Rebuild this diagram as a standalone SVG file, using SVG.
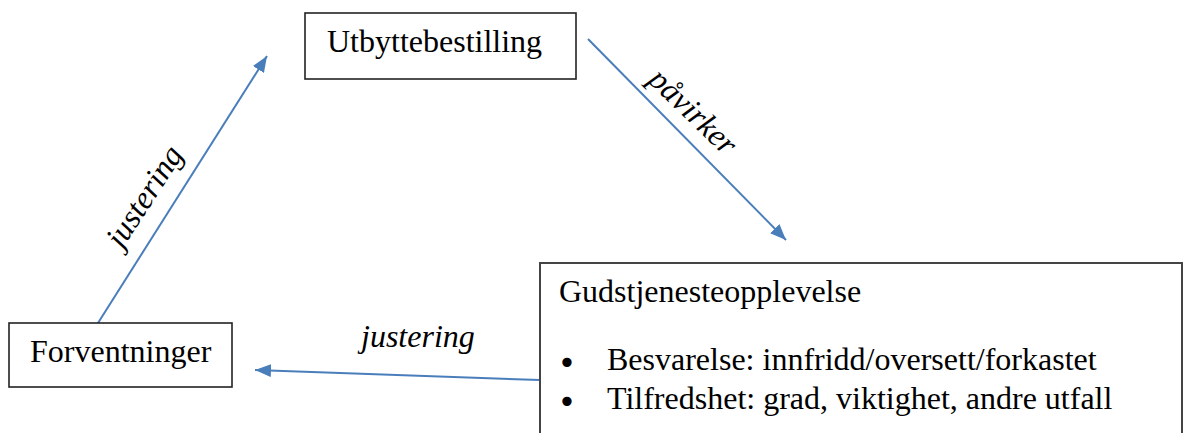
<svg xmlns="http://www.w3.org/2000/svg" width="1189" height="433" viewBox="0 0 1189 433">
<style>
.box{fill:#fff;stroke:#222;stroke-width:1.6}
.t{font-family:"Liberation Serif","Times New Roman",serif;font-size:32px;fill:#000}
.i{font-style:italic}
.b{font-family:"DejaVu Sans",sans-serif;font-size:32px;fill:#000}
.c{fill:none;stroke:#4a7ebb;stroke-width:2}
</style>
<defs>
<marker id="ah" markerUnits="userSpaceOnUse" markerWidth="18" markerHeight="14" refX="16" refY="6.5" orient="auto">
<path d="M0,0 L16,6.5 L0,13 z" fill="#4a7ebb"/>
</marker>
</defs>
<rect width="1189" height="433" fill="#fff"/>
<g id="connectors">
<line class="c" x1="98" y1="323" x2="267" y2="56" marker-end="url(#ah)"/>
<line class="c" x1="588" y1="39" x2="786" y2="240" marker-end="url(#ah)"/>
<line class="c" x1="540" y1="380" x2="255" y2="370" marker-end="url(#ah)"/>
<text class="t i" text-anchor="middle" transform="translate(153,202) rotate(-57)">justering</text>
<text class="t i" text-anchor="middle" transform="translate(686,119) rotate(44)">påvirker</text>
<text class="t i" x="361" y="347">justering</text>
</g>
<g id="utbyttebestilling">
<rect class="box" x="305" y="13" width="271" height="66"/>
<text class="t" x="327" y="52">Utbyttebestilling</text>
</g>
<g id="forventninger">
<rect class="box" x="9" y="323" width="223" height="64"/>
<text class="t" x="30" y="362">Forventninger</text>
</g>
<g id="gudstjenesteopplevelse">
<rect class="box" x="540" y="263" width="642" height="190" style="stroke:#444;stroke-width:2"/>
<text class="t" x="559" y="302">Gudstjenesteopplevelse</text>
<text class="b" x="567" y="374" text-anchor="middle">•</text>
<text class="t" x="607" y="370">Besvarelse: innfridd/oversett/forkastet</text>
<text class="b" x="567" y="413" text-anchor="middle">•</text>
<text class="t" x="607" y="409">Tilfredshet: grad, viktighet, andre utfall</text>
</g>
</svg>
